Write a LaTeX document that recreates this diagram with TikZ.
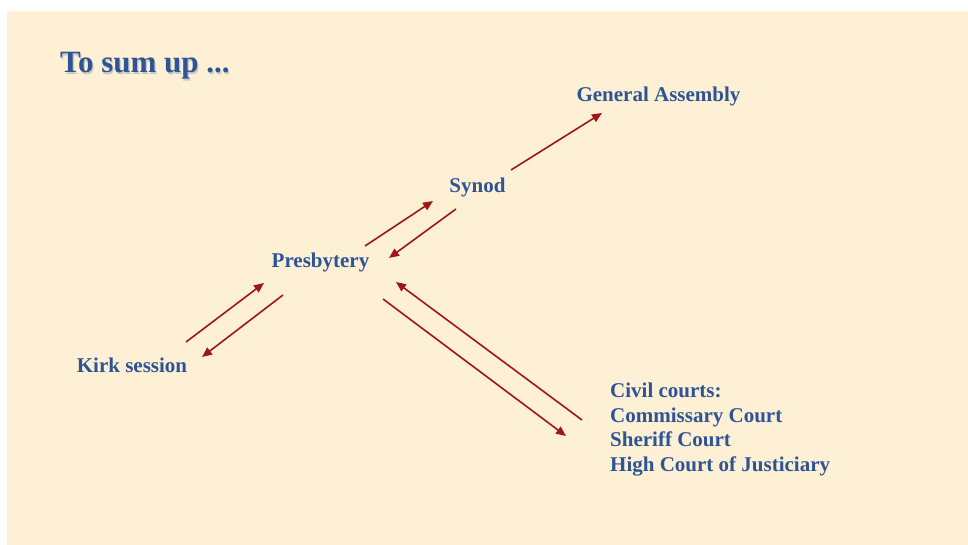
\documentclass[tikz,border=0pt]{standalone}
\usepackage{fontspec}
\setmainfont{Liberation Serif}
\usetikzlibrary{arrows.meta}
\definecolor{parch}{RGB}{253,240,212}
\definecolor{txtblue}{RGB}{47,84,150}
\definecolor{arrred}{RGB}{160,22,22}
\tikzset{
  lbl/.style={text=txtblue, font=\bfseries\fontsize{21}{24.5}\selectfont, inner sep=0pt},
  ttl/.style={font=\bfseries\fontsize{31}{34}\selectfont, inner sep=0pt, anchor=west},
  conn/.style={draw=arrred, line width=1.6pt, -{Triangle[length=10pt,width=8.5pt]}}
}
\begin{document}
\begin{tikzpicture}[x=1pt,y=-1pt]
\useasboundingbox (0,0) rectangle (968,545);
\fill[white] (0,0) rectangle (968,545);
\fill[parch] (7,11) rectangle (968,545);
% title with shadow
\node[ttl, text=black!22] (tshadow) at (61.2,67.2) {To sum up ...};
\node[ttl, text=txtblue] (title) at (60,66) {To sum up ...};
% labels
\node[lbl] (ga) at (658.5,96) {General Assembly};
\node[lbl] (synod) at (477.5,187) {Synod};
\node[lbl] (presb) at (320.5,262) {Presbytery};
\node[lbl] (kirk) at (132,365) {Kirk session};
\node[lbl, anchor=north west, align=left] (civil) at (610,383) {Civil courts:\\Commissary Court\\Sheriff Court\\High Court of Justiciary};
% arrow end points
\coordinate (k1) at (186,342); \coordinate (p1) at (264,283);
\coordinate (p2) at (283,295); \coordinate (k2) at (202,357);
\coordinate (p3) at (365,246); \coordinate (s1) at (433,201);
\coordinate (s2) at (456,209); \coordinate (p4) at (389,258);
\coordinate (s3) at (511,170); \coordinate (g1) at (602,113);
\coordinate (c1) at (582,420); \coordinate (p5) at (396,282);
\coordinate (p6) at (383,299); \coordinate (c2) at (566,436);
% connectors
\draw[conn] (k1) -- (p1);
\draw[conn] (p2) -- (k2);
\draw[conn] (p3) -- (s1);
\draw[conn] (s2) -- (p4);
\draw[conn] (s3) -- (g1);
\draw[conn] (c1) -- (p5);
\draw[conn] (p6) -- (c2);
\end{tikzpicture}
\end{document}
